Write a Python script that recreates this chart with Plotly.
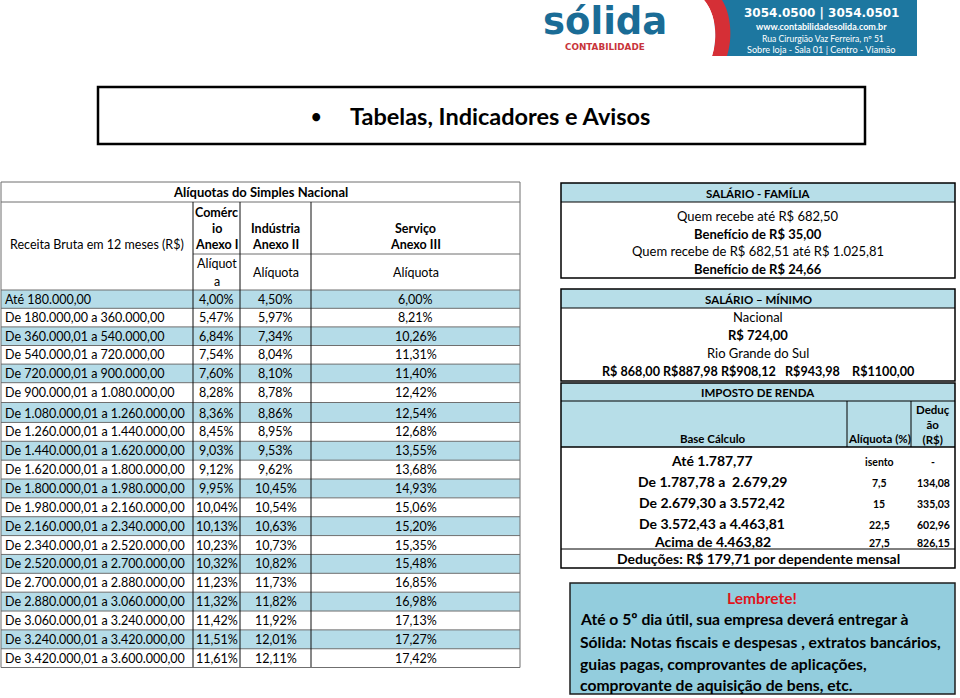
import plotly.graph_objects as go

FONT = "Lato, 'Noto Sans', sans-serif"
DJ = "'DejaVu Sans', sans-serif"

# ---------------- data ----------------
title_text = "Tabelas, Indicadores e Avisos"
logo_name = "sólida"
logo_sub = "CONTABILIDADE"

faixas = [
    "Até 180.000,00", "De 180.000,00 a 360.000,00", "De 360.000,01 a 540.000,00",
    "De 540.000,01 a 720.000,00", "De 720.000,01 a 900.000,00", "De 900.000,01 a 1.080.000,00",
    "De 1.080.000,01 a 1.260.000,00", "De 1.260.000,01 a 1.440.000,00", "De 1.440.000,01 a 1.620.000,00",
    "De 1.620.000,01 a 1.800.000,00", "De 1.800.000,01 a 1.980.000,00", "De 1.980.000,01 a 2.160.000,00",
    "De 2.160.000,01 a 2.340.000,00", "De 2.340.000,01 a 2.520.000,00", "De 2.520.000,01 a 2.700.000,00",
    "De 2.700.000,01 a 2.880.000,00", "De 2.880.000,01 a 3.060.000,00", "De 3.060.000,01 a 3.240.000,00",
    "De 3.240.000,01 a 3.420.000,00", "De 3.420.000,01 a 3.600.000,00",
]
anexo1 = [4.00, 5.47, 6.84, 7.54, 7.60, 8.28, 8.36, 8.45, 9.03, 9.12,
          9.95, 10.04, 10.13, 10.23, 10.32, 11.23, 11.32, 11.42, 11.51, 11.61]
anexo2 = [4.50, 5.97, 7.34, 8.04, 8.10, 8.78, 8.86, 8.95, 9.53, 9.62,
          10.45, 10.54, 10.63, 10.73, 10.82, 11.73, 11.82, 11.92, 12.01, 12.11]
anexo3 = [6.00, 8.21, 10.26, 11.31, 11.40, 12.42, 12.54, 12.68, 13.55, 13.68,
          14.93, 15.06, 15.20, 15.35, 15.48, 16.85, 16.98, 17.13, 17.27, 17.42]

sf_title = "SALÁRIO - FAMÍLIA"
sf_lines = ["Quem recebe até R$ 682,50", "Benefício de R$ 35,00",
            "Quem recebe de R$ 682,51 até R$ 1.025,81", "Benefício de R$ 24,66"]
sf_bold = [False, True, False, True]

sm_title = "SALÁRIO – MÍNIMO"
sm_lines = ["Nacional", "R$ 724,00", "Rio Grande do Sul",
            "R$ 868,00 R$887,98 R$908,12   R$943,98    R$1100,00"]
sm_bold = [False, True, False, True]

ir_title = "IMPOSTO DE RENDA"
ir_headers = ["Base Cálculo", "Alíquota (%)", "Deduç<br>ão<br>(R$)"]
ir_faixas = ["Até 1.787,77", "De 1.787,78 a  2.679,29", "De 2.679,30 a 3.572,42",
             "De 3.572,43 a 4.463,81", "Acima de 4.463,82"]
ir_aliq = ["isento", "7,5", "15", "22,5", "27,5"]
ir_ded = ["-", "134,08", "335,03", "602,96", "826,15"]
ir_note = "Deduções: R$ 179,71 por dependente mensal"

lembrete_title = "Lembrete!"
lembrete_lines = ["Até o 5º dia útil, sua empresa deverá entregar à",
                  "Sólida: Notas fiscais e despesas , extratos bancários,",
                  "guias pagas, comprovantes de aplicações,",
                  "comprovante de aquisição de bens, etc."]

banner_lines = ["3054.0500 | 3054.0501", "www.contabilidadesolida.com.br",
                "Rua Cirurgião Vaz Ferreira, nº 51", "Sobre loja - Sala 01 | Centro - Viamão"]

# ---------------- helpers ----------------
shapes, annos = [], []
LBLUE = "#b5dce8"
HBLUE = "#b7dee8"


def rect(x0, y0, x1, y1, fill=None, lc=None, lw=1):
    shapes.append(dict(type="rect", xref="x", yref="y", x0=x0, y0=y0, x1=x1, y1=y1,
                       fillcolor=fill or "rgba(0,0,0,0)",
                       line=dict(color=lc or "rgba(0,0,0,0)", width=lw if lc else 0)))


def hline(x0, x1, y, color="#404040", w=1):
    shapes.append(dict(type="line", xref="x", yref="y", x0=x0, x1=x1, y0=y, y1=y,
                       line=dict(color=color, width=w)))


def vline(x, y0, y1, color="#404040", w=1):
    shapes.append(dict(type="line", xref="x", yref="y", x0=x, x1=x, y0=y0, y1=y1,
                       line=dict(color=color, width=w)))


def txt(x, y, s, size, bold=False, color="#000", xa="center", family=FONT, ya="middle"):
    annos.append(dict(x=x, y=y, xref="x", yref="y", text=(f"<b>{s}</b>" if bold else s),
                      showarrow=False, xanchor=xa, yanchor=ya, align=xa if xa != "center" else "center",
                      font=dict(family=family, size=size, color=color), borderpad=0))


def pct(v):
    return f"{v:.2f}".replace(".", ",") + "%"


# ---------------- logo / banner ----------------
txt(605, 21, logo_name, 37, True, "#1a6c96", family=DJ)
txt(605, 46.5, logo_sub, 8.8, True, "#c8343b", family=DJ)
rect(714, 0, 917, 56, fill="#1d77a0")
shapes.append(dict(type="path", xref="x", yref="y",
                   path="M 704 0 C 716 14 718 38 712 56 L 727 56 C 733 38 731 14 722 0 Z",
                   fillcolor="#d52f36", line=dict(width=0)))
shapes.append(dict(type="path", xref="x", yref="y",
                   path="M 700 0 L 704 0 C 716 14 718 38 712 56 L 700 56 Z",
                   fillcolor="#ffffff", line=dict(width=0)))
txt(821, 13, banner_lines[0], 12, True, "#fff", family=DJ)
txt(821, 26, banner_lines[1], 9, True, "#fff")
txt(823, 38.5, banner_lines[2], 8.6, False, "#fff")
txt(821, 49.5, banner_lines[3], 9.1, False, "#fff")

# ---------------- title box ----------------
rect(98, 87, 865, 144, lc="#000", lw=2.5)
txt(316, 116, "•", 18, True)
txt(349, 116, title_text, 23.5, True, xa="left")

# ---------------- Simples Nacional table ----------------
X = [1, 193, 240, 311, 520]
TS = 12.5
centers = [299 + i * 18.6 if i < 6 else 413 + (i - 6) * 18.86 for i in range(len(faixas))]
bounds = [290] + [(centers[i] + centers[i + 1]) / 2 for i in range(len(centers) - 1)] + [667.5]

for i in range(len(faixas)):
    if i % 2 == 0:
        rect(X[0], bounds[i], X[4], bounds[i + 1], fill=LBLUE)
for b in bounds[1:-1]:
    hline(X[0], X[4], b, "#6f6f6f", 1)
hline(X[0], X[4], 290, "#6f6f6f", 1)
hline(X[0], X[4], 202, "#6f6f6f", 1)
hline(X[1], X[4], 254, "#6f6f6f", 1)
for x in X[1:4]:
    vline(x, 202, 667.5, "#111111", 1)
rect(X[0], 182, X[4], 667.5, lc="#6f6f6f", lw=1)

txt((X[0] + X[4]) / 2, 192, "Alíquotas do Simples Nacional", 13, True)
txt((X[0] + X[1]) / 2, 244, "Receita Bruta em 12 meses (R$)", TS)
c1, c2, c3 = (X[1] + X[2]) / 2, (X[2] + X[3]) / 2, (X[3] + X[4]) / 2
for yy, s in zip([212, 228, 244], ["Comérc", "io", "Anexo I"]):
    txt(c1, yy, s, TS, True)
for yy, s in zip([228, 244], ["Indústria", "Anexo II"]):
    txt(c2, yy, s, TS, True)
for yy, s in zip([228, 244], ["Serviço", "Anexo III"]):
    txt(c3, yy, s, TS, True)
txt(c1, 263, "Alíquot", TS)
txt(c1, 281, "a", TS)
txt(c2, 272, "Alíquota", TS)
txt(c3, 272, "Alíquota", TS)

for i, f in enumerate(faixas):
    y = centers[i]
    txt(X[0] + 3, y, f, TS, xa="left")
    txt(c1, y, pct(anexo1[i]), TS)
    txt(c2, y, pct(anexo2[i]), TS)
    txt(c3, y, pct(anexo3[i]), TS)

# ---------------- right panels ----------------
RX0, RX1 = 561, 955
RC = (RX0 + RX1) / 2

# Salário família
rect(RX0, 183, RX1, 202, fill=HBLUE)
hline(RX0, RX1, 202, "#000", 1)
rect(RX0, 183, RX1, 278, lc="#000", lw=1.5)
txt(RC, 193, sf_title, 11.5, True)
for yy, s, b in zip([216, 234, 251, 269], sf_lines, sf_bold):
    txt(RC, yy, s, 13, b)

# Salário mínimo
rect(RX0, 289, RX1, 308, fill=HBLUE)
hline(RX0, RX1, 308, "#000", 1)
rect(RX0, 289, RX1, 381, lc="#000", lw=1.5)
txt(RC, 299, sm_title, 11.5, True)
for yy, s, b in zip([317, 335, 353, 371], sm_lines, sm_bold):
    txt(RC, yy, s, 12.6 if b and len(s) > 30 else 13, b)

# Imposto de renda
IC = [RX0, 847, 911, RX1]
rect(RX0, 383, RX1, 447, fill=HBLUE)
hline(RX0, RX1, 401, "#000", 1)
hline(RX0, RX1, 447, "#000", 1.5)
vline(IC[1], 401, 447, "#000", 1)
vline(IC[2], 401, 447, "#000", 1)
hline(RX0, RX1, 549, "#000", 1)
rect(RX0, 383, RX1, 568, lc="#000", lw=1.5)
txt(RC, 392, ir_title, 11.5, True)
txt(712, 438, ir_headers[0], 11.5, True)
txt((IC[1] + IC[2]) / 2, 438, ir_headers[1], 11.5, True)
annos.append(dict(x=(IC[2] + IC[3]) / 2, y=424, xref="x", yref="y", text="<b>" + ir_headers[2] + "</b>",
                  showarrow=False, xanchor="center", yanchor="middle",
                  font=dict(family=FONT, size=11.5, color="#000")))
for i, (f, a, d) in enumerate(zip(ir_faixas, ir_aliq, ir_ded)):
    yf = [460, 481, 502, 523, 541][i]
    txt(712, yf, f, 14, True)
    txt((IC[1] + IC[2]) / 2, yf + 1.5, a, 10.5, True)
    txt((IC[2] + IC[3]) / 2, yf + 1.5, d, 10.5, True)
txt(RC, 558, ir_note, 14, True)

# Lembrete
rect(570, 583, RX1, 694, fill="#93cddd", lc="#1e1e1e", lw=1.5)
txt(762, 598, lembrete_title, 15.5, True, "#e0141c")
for yy, s in zip([619, 642, 664, 685], lembrete_lines):
    txt(579, yy, s, 15.7, True, xa="left")

# ---------------- figure ----------------
fig = go.Figure(go.Scatter(x=[0, 960], y=[0, 698], mode="markers", marker=dict(opacity=0),
                           hoverinfo="skip", showlegend=False))
fig.update_layout(width=960, height=698, margin=dict(l=0, r=0, t=0, b=0),
                  paper_bgcolor="white", plot_bgcolor="white",
                  xaxis=dict(range=[0, 960], visible=False, fixedrange=True),
                  yaxis=dict(range=[698, 0], visible=False, fixedrange=True),
                  shapes=shapes, annotations=annos, showlegend=False)
fig.write_html("out.html", config={"displayModeBar": False},
               post_script="document.body.style.margin='0';document.body.style.overflow='hidden';")
